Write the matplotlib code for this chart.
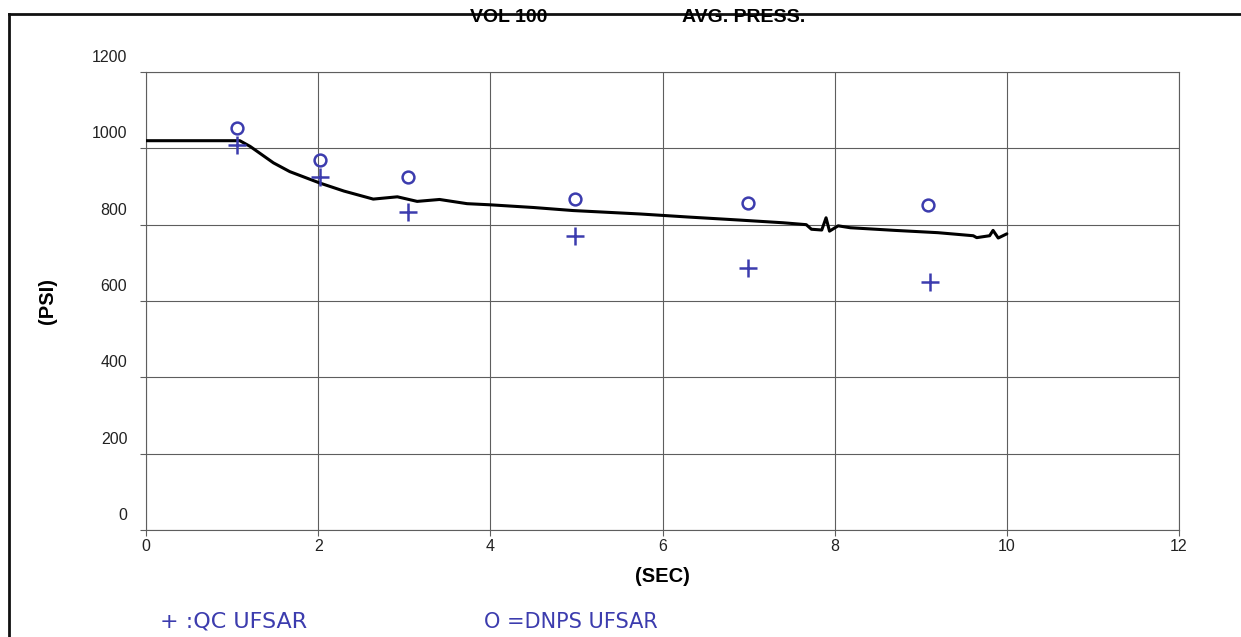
import matplotlib
matplotlib.use("Agg")
import matplotlib.pyplot as plt
from matplotlib.lines import Line2D
from matplotlib.transforms import ScaledTranslation

# measured pressure trace (sec, psi)
curve_t = [0, 1.09, 1.21, 1.48, 1.67, 2.02, 2.3, 2.64, 2.92, 3.15, 3.41, 3.73, 4.0,
           4.5, 4.96, 5.74, 6.3, 6.9, 7.4, 7.67, 7.73, 7.85, 7.9, 7.94, 8.04,
           8.18, 8.7, 9.2, 9.61, 9.65, 9.8, 9.84, 9.9, 10.0]
curve_p = [1020, 1020, 1005, 962, 939, 909, 888, 867, 873, 861, 866, 855, 852,
           845, 837, 828, 820, 812, 805, 800, 788, 786, 818, 783, 797,
           792, 785, 779, 771, 766, 771, 785, 765, 776]

# hand-marked points
qc_t = [1.06, 2.02, 3.04, 4.98, 6.99, 9.11]
qc_p = [1010, 925, 834, 769, 687, 651]
dnps_t = [1.06, 2.02, 3.04, 4.98, 6.99, 9.08]
dnps_p = [1054, 970, 926, 867, 857, 852]

x_ticks = [0, 2, 4, 6, 8, 10, 12]
y_ticks = [0, 200, 400, 600, 800, 1000, 1200]

plt.rcParams['font.family'] = ['Liberation Sans', 'DejaVu Sans']
ink = '#3c3cae'
grid_col = '#5e5e5e'

fig = plt.figure(figsize=(12.41, 6.37), dpi=100)
W, H = 1241, 637
ax = fig.add_axes([146 / W, 1 - 530 / H, (1179 - 146) / W, (530 - 72) / H])

ax.plot(curve_t, curve_p, color='black', lw=2.2, solid_capstyle='round',
        solid_joinstyle='round', zorder=3)
ax.plot(qc_t, qc_p, linestyle='none', marker='+', markersize=12.5,
        markeredgewidth=1.8, color=ink, zorder=4)
ax.plot(dnps_t, dnps_p, linestyle='none', marker='o', markersize=8.5,
        markerfacecolor='none', markeredgewidth=1.8, color=ink, zorder=4)

ax.set_xlim(0, 12)
ax.set_ylim(0, 1200)
ax.set_xticks(x_ticks)
ax.set_yticks(y_ticks)
ax.grid(True, color=grid_col, lw=0.8)
for s in ax.spines.values():
    s.set_color(grid_col)
    s.set_linewidth(0.8)
ax.tick_params(axis='both', length=4.5, width=0.8, color=grid_col,
               labelsize=11.5, labelcolor='#222222')
ax.tick_params(axis='x', pad=2)
ax.tick_params(axis='y', pad=9)

# y labels sit a bit above their gridlines, like the original printout
off = ScaledTranslation(0, 16 / 100, fig.dpi_scale_trans)
for lab in ax.get_yticklabels():
    lab.set_transform(lab.get_transform() + off)

# frame around the page
top = 1 - 13.5 / H
fig.add_artist(Line2D([9 / W, 1], [top, top], color='#111111', lw=2))
fig.add_artist(Line2D([9 / W, 9 / W], [0, top], color='#111111', lw=2))

fig.text(509 / W, 1 - 18 / H, 'VOL 100', ha='center', va='center',
         fontsize=14, fontweight='bold')
fig.text(744 / W, 1 - 18 / H, 'AVG. PRESS.', ha='center', va='center',
         fontsize=14, fontweight='bold')
fig.text(662 / W, 1 - 577 / H, '(SEC)', ha='center', va='center',
         fontsize=14.5, fontweight='bold')
fig.text(48 / W, 1 - 301 / H, '(PSI)', ha='center', va='center',
         fontsize=14.5, fontweight='bold', rotation=90)

fig.text(160 / W, 1 - 622 / H, '+ :QC UFSAR', ha='left', va='center',
         fontsize=16, color=ink, family=['DejaVu Sans'])
fig.text(484 / W, 1 - 622 / H, 'O =DNPS UFSAR', ha='left', va='center',
         fontsize=15, color=ink, family=['DejaVu Sans'])

fig.savefig('out.png', dpi=100)
